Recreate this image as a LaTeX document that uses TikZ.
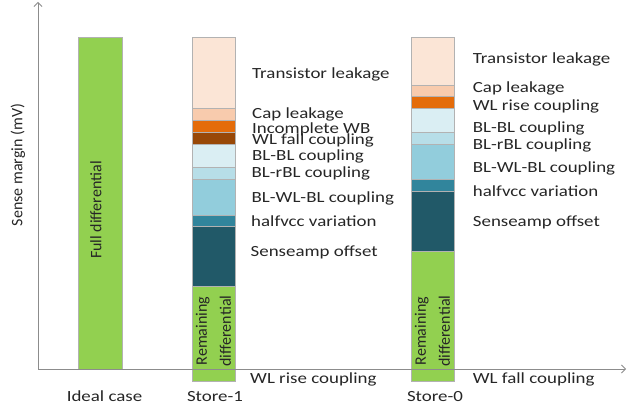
\documentclass[tikz,border=0pt]{standalone}
\usepackage{fontspec}
\setmainfont{Carlito}
\newfontfamily\widefont{Carlito}[FakeStretch=1.22]
\usetikzlibrary{arrows.meta}
\definecolor{cTrans}{HTML}{FBE5D6}
\definecolor{cCap}{HTML}{F8CBAD}
\definecolor{cOrange}{HTML}{E46C0A}
\definecolor{cBrown}{HTML}{984807}
\definecolor{cBlueA}{HTML}{DAEEF3}
\definecolor{cBlueB}{HTML}{B7DEE8}
\definecolor{cBlueC}{HTML}{92CDDC}
\definecolor{cTeal}{HTML}{31859C}
\definecolor{cDark}{HTML}{215968}
\definecolor{cGreen}{HTML}{92D050}
\definecolor{cText}{HTML}{262626}
\definecolor{cAxis}{HTML}{8C8C8C}
\begin{document}
\begin{tikzpicture}[x=1pt,y=-1pt,
  segline/.style={draw=black!30, line width=0.6pt},
  axisline/.style={draw=cAxis, line width=0.8pt, -{Straight Barb[length=4pt,width=8pt]}},
  lbl/.style={anchor=base west, inner sep=0pt, text=cText, font=\widefont\fontsize{15.5}{19}\selectfont},
  cat/.style={anchor=base, inner sep=0pt, text=cText, font=\widefont\fontsize{15.5}{19}\selectfont},
  vlbl/.style={rotate=90, inner sep=0pt, text=cText, align=center, font=\fontsize{16}{24}\selectfont}]
\useasboundingbox (0,0) rectangle (627,409);

% ---- Ideal case bar
\filldraw[fill=cGreen, segline] (78,37) rectangle (122,369);

% ---- Store-1 bar
\filldraw[fill=cTrans, segline] (192,37.3) rectangle (235,108.3);
\filldraw[fill=cCap, segline] (192,108.3) rectangle (235,120);
\filldraw[fill=cOrange, segline] (192,120) rectangle (235,132.3);
\filldraw[fill=cBrown, segline] (192,132.3) rectangle (235,144.3);
\filldraw[fill=cBlueA, segline] (192,144.3) rectangle (235,167.7);
\filldraw[fill=cBlueB, segline] (192,167.7) rectangle (235,179.3);
\filldraw[fill=cBlueC, segline] (192,179.3) rectangle (235,215);
\filldraw[fill=cTeal, segline] (192,215) rectangle (235,226.7);
\filldraw[fill=cDark, segline] (192,226.7) rectangle (235,286);
\filldraw[fill=cGreen, segline] (192,286) rectangle (235,381);

% ---- Store-0 bar
\filldraw[fill=cTrans, segline] (411,37.3) rectangle (454,85.7);
\filldraw[fill=cCap, segline] (411,85.7) rectangle (454,96);
\filldraw[fill=cOrange, segline] (411,96) rectangle (454,108.3);
\filldraw[fill=cBlueA, segline] (411,108.3) rectangle (454,132.7);
\filldraw[fill=cBlueB, segline] (411,132.7) rectangle (454,144.3);
\filldraw[fill=cBlueC, segline] (411,144.3) rectangle (454,179.3);
\filldraw[fill=cTeal, segline] (411,179.3) rectangle (454,191);
\filldraw[fill=cDark, segline] (411,191) rectangle (454,251);
\filldraw[fill=cGreen, segline] (411,251) rectangle (454,381);

% ---- Axes
\coordinate (origin) at (38,369);
\coordinate (ytop) at (38,2);
\coordinate (xend) at (626,369);
\draw[axisline] (origin) -- (ytop);
\draw[axisline] (origin) -- (xend);

% ---- Vertical texts
\node[vlbl] (ylabel) at (18,165) {Sense margin (mV)};
\node[vlbl] (fulldiff) at (96,210) {Full differential};
\node[vlbl] (rem1) at (213.5,331) {Remaining\\differential};
\node[vlbl] (rem0) at (432.5,331) {Remaining\\differential};

% ---- Store-1 labels
\node[lbl] (s1a) at (252,78.3) {Transistor leakage};
\node[lbl] (s1b) at (252,119) {Cap leakage};
\node[lbl] (s1c) at (252,133.3) {Incomplete WB};
\node[lbl] (s1d) at (252,144.5) {WL fall coupling};
\node[lbl] (s1e) at (252,160.5) {BL-BL coupling};
\node[lbl] (s1f) at (251.5,178) {BL-rBL coupling};
\node[lbl] (s1g) at (251.5,203) {BL-WL-BL coupling};
\node[lbl] (s1h) at (251,226) {halfvcc variation};
\node[lbl] (s1i) at (250.5,256) {Senseamp offset};
\node[lbl] (s1j) at (250,383.3) {WL rise coupling};

% ---- Store-0 labels
\node[lbl] (s0a) at (472.7,63.3) {Transistor leakage};
\node[lbl] (s0b) at (472.7,92.7) {Cap leakage};
\node[lbl] (s0c) at (472.7,110.7) {WL rise coupling};
\node[lbl] (s0d) at (472.7,132.3) {BL-BL coupling};
\node[lbl] (s0e) at (472.7,149.3) {BL-rBL coupling};
\node[lbl] (s0f) at (472.7,172.7) {BL-WL-BL coupling};
\node[lbl] (s0g) at (472.7,196.7) {halfvcc variation};
\node[lbl] (s0h) at (472.7,226) {Senseamp offset};
\node[lbl] (s0i) at (472.7,383.3) {WL fall coupling};

% ---- Category labels
\node[cat] (c0) at (104.5,401.7) {Ideal case};
\node[cat] (c1) at (215,401.7) {Store-1};
\node[cat] (c2) at (435,401.5) {Store-0};
\end{tikzpicture}
\end{document}
